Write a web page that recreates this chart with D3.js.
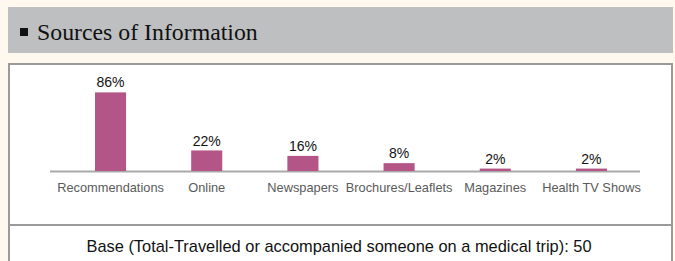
<!DOCTYPE html>
<html><head><meta charset="utf-8">
<script src="https://cdn.jsdelivr.net/npm/d3@7"></script>
<style>html,body{margin:0;padding:0;background:#fff8ee;}svg{display:block;}</style>
</head><body>
<script>
const categories = ["Recommendations","Online","Newspapers","Brochures/Leaflets","Magazines","Health TV Shows"];
const values = [86,22,16,8,2,2];
const valueLabels = ["86%","22%","16%","8%","2%","2%"];
const title = "Sources of Information";
const footer = "Base (Total-Travelled or accompanied someone on a medical trip): 50";

const W = 675, H = 261;
const svg = d3.select("body").append("svg").attr("width", W).attr("height", H);
svg.append("rect").attr("width", W).attr("height", H).attr("fill", "#fff8ee");

// title band
svg.append("rect").attr("x", 8).attr("y", 7).attr("width", 665).attr("height", 46).attr("fill", "#bebfc1");
svg.append("rect").attr("x", 20).attr("y", 28).attr("width", 8).attr("height", 8).attr("fill", "#111");
svg.append("text").attr("x", 37).attr("y", 39.5).text(title)
  .attr("font-family", "Liberation Serif, Times New Roman, serif").attr("font-size", 23.8).attr("fill", "#111");

// panel
svg.append("rect").attr("x", 9).attr("y", 64).attr("width", 663).attr("height", 210)
  .attr("fill", "#fff").attr("stroke", "#9a9a9a").attr("stroke-width", 2);
svg.append("line").attr("x1", 9).attr("x2", 672).attr("y1", 225).attr("y2", 225)
  .attr("stroke", "#9a9a9a").attr("stroke-width", 2);

const x = d3.scaleBand().domain(categories).range([62.5, 639.5]).paddingInner(0.677).paddingOuter(0.338);
const y = d3.scaleLinear().domain([0, 100]).range([171, 80.3]);

svg.append("line").attr("x1", 50).attr("x2", 640).attr("y1", 171.5).attr("y2", 171.5)
  .attr("stroke", "#aaa").attr("stroke-width", 2);

const g = svg.append("g");
g.selectAll("rect.bar").data(values).join("rect").attr("class", "bar")
  .attr("x", (d, i) => x(categories[i]))
  .attr("width", x.bandwidth())
  .attr("y", d => y(d) - 0.6)
  .attr("height", d => y(0) - y(d) + 0.6)
  .attr("fill", "#b35587");

g.selectAll("text.val").data(values).join("text").attr("class", "val")
  .attr("x", (d, i) => x(categories[i]) + x.bandwidth() / 2)
  .attr("y", d => y(d) - 5.5)
  .attr("text-anchor", "middle")
  .attr("font-family", "Liberation Sans, Arial, sans-serif").attr("font-size", 14).attr("fill", "#111")
  .text((d, i) => valueLabels[i]);

const xAxis = d3.axisBottom(x).tickSize(0).tickPadding(0);
const ax = svg.append("g").attr("transform", "translate(0,171)").call(xAxis);
ax.select(".domain").remove();
ax.selectAll("text").attr("dy", null).attr("y", 21)
  .attr("font-family", "Liberation Sans, Arial, sans-serif").attr("font-size", 12.8).attr("fill", "#5a5a5a");

svg.append("text").attr("x", 339).attr("y", 252).attr("text-anchor", "middle")
  .attr("font-family", "Liberation Sans, Arial, sans-serif").attr("font-size", 16.4).attr("fill", "#111")
  .text(footer);
</script>
</body></html>
